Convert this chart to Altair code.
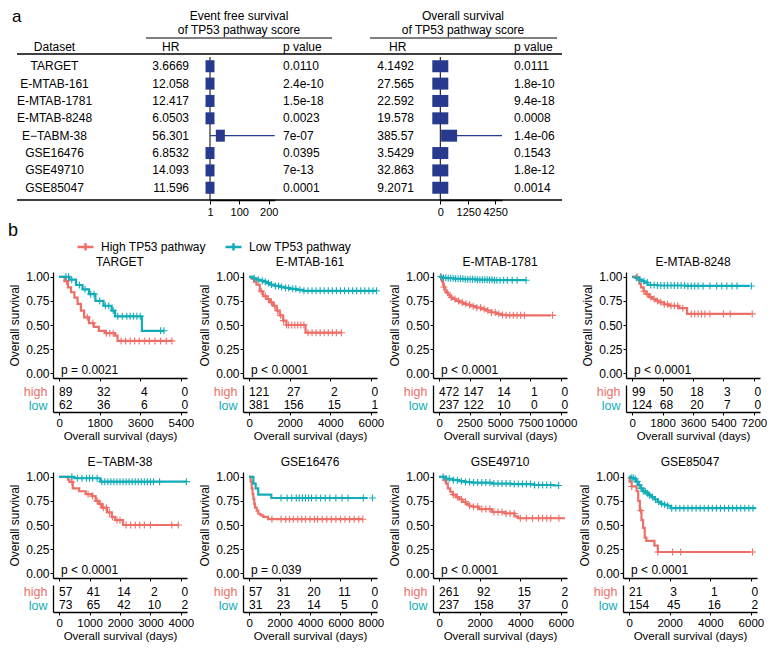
import altair as alt
import pandas as pd

RED = "#EE6F68"
TEAL = "#12ADB8"
NAVY = "#283A8E"
FONT = "Liberation Sans"
GROUPS = ["High TP53 pathway", "Low TP53 pathway"]

# ---------------- part a : forest table ----------------
DATASETS = ["TARGET", "E-MTAB-161", "E-MTAB-1781", "E-MTAB-8248", "E\u2212TABM-38",
            "GSE16476", "GSE49710", "GSE85047"]
HR_EFS = ["3.6669", "12.058", "12.417", "6.0503", "56.301", "6.8532", "14.093", "11.596"]
P_EFS = ["0.0110", "2.4e-10", "1.5e-18", "0.0023", "7e-07", "0.0395", "7e-13", "0.0001"]
HR_OS = ["4.1492", "27.565", "22.592", "19.578", "385.57", "3.5429", "32.863", "9.2071"]
P_OS = ["0.0111", "1.8e-10", "9.4e-18", "0.0008", "1.4e-06", "0.1543", "1.8e-12", "0.0014"]
BOX_EFS = [1, 1, 1, 1, 36, 1, 1, 1]
CI_LO_EFS = [1, 1, 1, 1, 1, 1, 1, 1]
CI_HI_EFS = [1, 1, 1, 1, 220, 1, 1, 1]
BOX_OS = [0, 0, 0, 0, 152, 0, 0, 0]
CI_LO_OS = [0, 0, 0, 0, 152, 0, 0, 0]
CI_HI_OS = [0, 0, 0, 0, 5250, 0, 0, 0]
EFS_REF = 1
OS_REF = 0
EFS_TICKS = [1, 100, 200]
OS_TICKS = [0, 1250, 4250]

# ---------------- part b : Kaplan-Meier panels ----------------
TARGET_HIGH_T = [0, 245, 390, 530, 680, 820, 965, 1110, 1325, 1540, 1760, 2045, 2480, 2590, 5000]
TARGET_HIGH_S = [1.0, 0.955, 0.89, 0.84, 0.785, 0.72, 0.65, 0.58, 0.52, 0.48, 0.44, 0.415, 0.39, 0.335, 0.335]
TARGET_LOW_T = [0, 460, 750, 1040, 1325, 1610, 1970, 2330, 2480, 3670, 4650]
TARGET_LOW_S = [1.0, 0.97, 0.915, 0.87, 0.82, 0.75, 0.70, 0.65, 0.59, 0.44, 0.44]
TARGET_HIGH_C = [330, 1250, 1500, 2100, 2250, 2400, 2750, 2950, 3150, 3350, 3550, 3800, 4000, 4250, 4500, 4750, 5000]
TARGET_LOW_C = [300, 420, 560, 900, 1150, 1400, 1550, 1800, 2050, 2200, 2400, 2600, 2800, 3000, 3150, 3300, 3450, 3600, 4500, 4650]
TARGET_RISK_T = [0, 1800, 3600, 5400]
TARGET_RISK_HIGH = [89, 32, 4, 0]
TARGET_RISK_LOW = [62, 36, 6, 0]

MTAB161_HIGH_T = [0, 115, 240, 360, 525, 690, 855, 1020, 1180, 1350, 1510, 1675, 1840, 2780, 4550]
MTAB161_HIGH_S = [1.0, 0.98, 0.95, 0.92, 0.85, 0.80, 0.77, 0.735, 0.70, 0.65, 0.60, 0.545, 0.50, 0.42, 0.42]
MTAB161_LOW_T = [0, 200, 360, 520, 690, 850, 1020, 1260, 1510, 1750, 2000, 2330, 2660, 6280]
MTAB161_LOW_S = [1.0, 0.985, 0.97, 0.96, 0.95, 0.935, 0.92, 0.905, 0.895, 0.885, 0.875, 0.865, 0.855, 0.855]
MTAB161_HIGH_C = [600, 800, 950, 1100, 1250, 1400, 1550, 1700, 1850, 1950, 2100, 2250, 2400, 2550, 2700,
                  2900, 3100, 3300, 3500, 3700, 3900, 4100, 4300, 4550]
MTAB161_LOW_C = [250, 450, 650, 800, 950, 1100, 1300, 1450, 1600, 1800, 1950, 2150, 2300, 2500, 2700, 2900,
                 3100, 3300, 3500, 3700, 3900, 4100, 4300, 4500, 4700, 4900, 5100, 5300, 5500, 5700, 5900, 6100, 6280]
MTAB161_RISK_T = [0, 2000, 4000, 6000]
MTAB161_RISK_HIGH = [121, 27, 2, 0]
MTAB161_RISK_LOW = [381, 156, 15, 1]

MTAB1781_HIGH_T = [0, 190, 250, 330, 400, 460, 530, 600, 730, 870, 1000, 1140, 1400, 1690, 1950, 2230,
                   2600, 3050, 3450, 3870, 4300, 4690, 5100, 5500, 9180]
MTAB1781_HIGH_S = [1.0, 0.97, 0.95, 0.92, 0.895, 0.87, 0.85, 0.835, 0.815, 0.80, 0.785, 0.77, 0.75, 0.735,
                   0.72, 0.71, 0.695, 0.68, 0.665, 0.65, 0.63, 0.615, 0.605, 0.60, 0.60]
MTAB1781_LOW_T = [0, 300, 600, 1200, 2000, 3000, 4400, 7140]
MTAB1781_LOW_S = [1.0, 0.99, 0.985, 0.98, 0.975, 0.97, 0.965, 0.965]
MTAB1781_HIGH_C = [150, 400, 700, 1000, 1300, 1600, 1900, 2200, 2500, 2800, 3100, 3400, 3700, 4000, 4300,
                   4600, 4900, 5200, 5500, 5800, 6100, 6400, 6700, 7000, 9320]
MTAB1781_LOW_C = [150, 350, 550, 750, 950, 1150, 1350, 1550, 1750, 1950, 2150, 2350, 2550, 2750, 2950, 3150,
                  3350, 3550, 3750, 3950, 4150, 4350, 4550, 4750, 5000, 5300, 5600, 6000, 6400, 7140]
MTAB1781_RISK_T = [0, 2500, 5000, 7500, 10000]
MTAB1781_RISK_HIGH = [472, 147, 14, 1, 0]
MTAB1781_RISK_LOW = [237, 122, 10, 0, 0]

MTAB8248_HIGH_T = [0, 330, 430, 525, 680, 820, 1000, 1210, 1400, 1600, 1900, 2180, 2760, 3250, 7040]
MTAB8248_HIGH_S = [1.0, 0.97, 0.93, 0.89, 0.85, 0.82, 0.79, 0.77, 0.75, 0.735, 0.715, 0.70, 0.675, 0.615, 0.615]
MTAB8248_LOW_T = [0, 200, 430, 580, 720, 915, 1500, 3150, 6950]
MTAB8248_LOW_S = [1.0, 0.99, 0.97, 0.955, 0.94, 0.915, 0.91, 0.905, 0.905]
MTAB8248_HIGH_C = [300, 700, 900, 1100, 1300, 1500, 1700, 1900, 2100, 2300, 2500, 2700, 3000, 3500, 3700,
                   3900, 4100, 4300, 4600, 5400, 5800, 7100]
MTAB8248_LOW_C = [250, 450, 700, 900, 1100, 1300, 1500, 1700, 1900, 2100, 2300, 2500, 2700, 2900, 3100,
                  3300, 3500, 3700, 3900, 4200, 4600, 5000, 5300, 5600, 5900, 6200, 7050]
MTAB8248_RISK_T = [0, 1800, 3600, 5400, 7200]
MTAB8248_RISK_HIGH = [99, 50, 18, 3, 0]
MTAB8248_RISK_LOW = [124, 68, 20, 7, 0]

TABM38_HIGH_T = [0, 290, 340, 450, 660, 875, 1090, 1200, 1300, 1410, 1570, 1730, 1840, 2100, 3915]
TABM38_HIGH_S = [1.0, 0.97, 0.947, 0.88, 0.85, 0.82, 0.80, 0.75, 0.72, 0.68, 0.63, 0.585, 0.55, 0.50, 0.50]
TABM38_LOW_T = [0, 500, 1355, 4180]
TABM38_LOW_S = [1.0, 0.985, 0.95, 0.95]
TABM38_HIGH_C = [420, 950, 1100, 1250, 1350, 1450, 1550, 1650, 1750, 1900, 2000, 2200, 2350, 2500, 2650,
                 2800, 3000, 3700, 3915]
TABM38_LOW_C = [420, 600, 750, 900, 1000, 1100, 1250, 1400, 1500, 1600, 1700, 1800, 1900, 2000, 2100, 2200,
                2300, 2400, 2500, 2600, 2700, 2800, 2900, 3000, 3100, 3300, 4180]
TABM38_RISK_T = [0, 1000, 2000, 3000, 4000]
TABM38_RISK_HIGH = [57, 41, 14, 2, 0]
TABM38_RISK_LOW = [73, 65, 42, 10, 2]

GSE16476_HIGH_T = [0, 100, 170, 230, 280, 340, 390, 500, 600, 760, 920, 1245, 7465]
GSE16476_HIGH_S = [1.0, 0.95, 0.88, 0.82, 0.77, 0.72, 0.68, 0.65, 0.617, 0.60, 0.585, 0.56, 0.56]
GSE16476_LOW_T = [0, 280, 430, 600, 1460, 7790]
GSE16476_LOW_S = [1.0, 0.93, 0.88, 0.815, 0.78, 0.78]
GSE16476_HIGH_C = [1500, 2100, 2400, 2650, 2900, 3200, 3450, 3700, 4000, 4300, 4500, 4800, 5100, 5400,
                   5700, 6000, 6300, 6600, 6900, 7200, 7465]
GSE16476_LOW_C = [2100, 2500, 2800, 3100, 3300, 3500, 3700, 3900, 4100, 4400, 4700, 5000, 5300, 5700,
                  6100, 6500, 7500, 8100]
GSE16476_RISK_T = [0, 2000, 4000, 6000, 8000]
GSE16476_RISK_HIGH = [57, 31, 20, 11, 0]
GSE16476_RISK_LOW = [31, 23, 14, 5, 0]

GSE49710_HIGH_T = [0, 270, 350, 430, 550, 675, 830, 995, 1150, 1315, 1480, 1635, 1955, 2600, 3240, 3720, 3880, 6200]
GSE49710_HIGH_S = [1.0, 0.965, 0.93, 0.88, 0.845, 0.815, 0.79, 0.765, 0.74, 0.72, 0.70, 0.69, 0.665, 0.635,
                   0.62, 0.59, 0.57, 0.57]
GSE49710_LOW_T = [0, 350, 700, 995, 1300, 1635, 2600, 3560, 4680, 5650, 5890]
GSE49710_LOW_S = [1.0, 0.98, 0.965, 0.955, 0.945, 0.94, 0.93, 0.925, 0.915, 0.91, 0.91]
GSE49710_HIGH_C = [300, 700, 900, 1100, 1300, 1500, 1700, 1900, 2100, 2300, 2500, 2700, 2900, 3100, 3300,
                   3500, 3700, 4000, 4300, 4600, 4900, 5100, 5300, 5500, 5900]
GSE49710_LOW_C = [200, 350, 500, 700, 900, 1100, 1300, 1500, 1700, 1900, 2100, 2300, 2500, 2700, 2900, 3100,
                  3300, 3500, 3700, 3900, 4100, 4300, 4500, 4700, 4900, 5100, 5300, 5500, 5890]
GSE49710_RISK_T = [0, 2000, 4000, 6000]
GSE49710_RISK_HIGH = [261, 92, 15, 2]
GSE49710_RISK_LOW = [237, 158, 37, 0]

GSE85047_HIGH_T = [0, 20, 130, 370, 450, 530, 610, 690, 770, 850, 1250, 1415, 6000]
GSE85047_HIGH_S = [1.0, 0.95, 0.90, 0.85, 0.75, 0.65, 0.55, 0.47, 0.37, 0.335, 0.285, 0.22, 0.22]
GSE85047_LOW_T = [0, 100, 210, 330, 450, 570, 690, 810, 935, 1100, 1255, 1420, 1575, 1740, 1900, 2060, 6240]
GSE85047_LOW_S = [1.0, 0.99, 0.98, 0.95, 0.915, 0.88, 0.85, 0.83, 0.81, 0.79, 0.765, 0.74, 0.72, 0.71,
                  0.70, 0.675, 0.675]
GSE85047_HIGH_C = [130, 580, 1415, 2140, 2540, 6080]
GSE85047_LOW_C = [100, 200, 300, 400, 500, 600, 700, 800, 900, 1000, 1150, 1300, 1450, 1600, 1750, 1900,
                  2100, 2300, 2500, 2700, 2900, 3100, 3300, 3500, 3700, 3900, 4100, 4300, 4500, 4700, 4900,
                  5100, 5300, 5500, 5700, 5900, 6100]
GSE85047_RISK_T = [0, 2000, 4000, 6000]
GSE85047_RISK_HIGH = [21, 3, 1, 0]
GSE85047_RISK_LOW = [154, 45, 16, 2]

PANEL_TITLES = ["TARGET", "E-MTAB-161", "E-MTAB-1781", "E-MTAB-8248",
                "E\u2212TABM-38", "GSE16476", "GSE49710", "GSE85047"]
PVALUES = ["p = 0.0021", "p < 0.0001", "p < 0.0001", "p < 0.0001",
           "p < 0.0001", "p = 0.039", "p < 0.0001", "p < 0.0001"]

PANELS = [
    (TARGET_HIGH_T, TARGET_HIGH_S, TARGET_LOW_T, TARGET_LOW_S, TARGET_HIGH_C, TARGET_LOW_C,
     TARGET_RISK_T, TARGET_RISK_HIGH, TARGET_RISK_LOW),
    (MTAB161_HIGH_T, MTAB161_HIGH_S, MTAB161_LOW_T, MTAB161_LOW_S, MTAB161_HIGH_C, MTAB161_LOW_C,
     MTAB161_RISK_T, MTAB161_RISK_HIGH, MTAB161_RISK_LOW),
    (MTAB1781_HIGH_T, MTAB1781_HIGH_S, MTAB1781_LOW_T, MTAB1781_LOW_S, MTAB1781_HIGH_C, MTAB1781_LOW_C,
     MTAB1781_RISK_T, MTAB1781_RISK_HIGH, MTAB1781_RISK_LOW),
    (MTAB8248_HIGH_T, MTAB8248_HIGH_S, MTAB8248_LOW_T, MTAB8248_LOW_S, MTAB8248_HIGH_C, MTAB8248_LOW_C,
     MTAB8248_RISK_T, MTAB8248_RISK_HIGH, MTAB8248_RISK_LOW),
    (TABM38_HIGH_T, TABM38_HIGH_S, TABM38_LOW_T, TABM38_LOW_S, TABM38_HIGH_C, TABM38_LOW_C,
     TABM38_RISK_T, TABM38_RISK_HIGH, TABM38_RISK_LOW),
    (GSE16476_HIGH_T, GSE16476_HIGH_S, GSE16476_LOW_T, GSE16476_LOW_S, GSE16476_HIGH_C, GSE16476_LOW_C,
     GSE16476_RISK_T, GSE16476_RISK_HIGH, GSE16476_RISK_LOW),
    (GSE49710_HIGH_T, GSE49710_HIGH_S, GSE49710_LOW_T, GSE49710_LOW_S, GSE49710_HIGH_C, GSE49710_LOW_C,
     GSE49710_RISK_T, GSE49710_RISK_HIGH, GSE49710_RISK_LOW),
    (GSE85047_HIGH_T, GSE85047_HIGH_S, GSE85047_LOW_T, GSE85047_LOW_S, GSE85047_HIGH_C, GSE85047_LOW_C,
     GSE85047_RISK_T, GSE85047_RISK_HIGH, GSE85047_RISK_LOW),
]

# ---------------- layout constants ----------------
TW, TH = 545, 146          # table body
OFF = -36                  # horizontal shift of the table content (view origin sits under the KM axis area)
KW, KH, RH = 134, 106, 27  # KM panel width / height, risk table height
PLUS = "M-1,0H1M0,-1V1"
BOX_TALL = "M-0.75,-1H0.75V1H-0.75Z"
BOX_WIDE = "M-1,-0.75H1V0.75H-1Z"
LEG_SYM = "M-1,0H1M0,-0.45V0.45"

# ================= part a =================
table_df = pd.DataFrame({
    "Dataset": DATASETS, "HR1": HR_EFS, "P1": P_EFS, "HR2": HR_OS, "P2": P_OS,
    "box1": BOX_EFS, "lo1": CI_LO_EFS, "hi1": CI_HI_EFS,
    "box2": BOX_OS, "lo2": CI_LO_OS, "hi2": CI_HI_OS,
})
ROW_Y = alt.Y("Dataset:N", scale=alt.Scale(type="point", domain=DATASETS, padding=0.705), axis=None)


def col_text(field, x, align):
    return alt.Chart(table_df).mark_text(align=align, baseline="middle", fontSize=12, color="black").encode(
        x=alt.value(x + OFF), y=ROW_Y, text=f"{field}:N")


def label(txt, x, y, align="center", size=12, baseline="middle", shift=True):
    return alt.Chart(pd.DataFrame({"t": [txt]})).mark_text(
        align=align, baseline=baseline, fontSize=size, color="black").encode(
        x=alt.value(x + (OFF if shift else 0)), y=alt.value(y), text="t:N")


def hrule(x1, x2, y, w):
    return alt.Chart(pd.DataFrame({"k": [0]})).mark_rule(color="black", strokeWidth=w).encode(
        x=alt.value(x1 + OFF), x2=alt.value(x2 + OFF), y=alt.value(y))


def forest_axis(vals):
    return alt.Axis(values=vals, orient="bottom", title=None, grid=False, labelFlush=False,
                    labelOverlap=False, format="d",
                    domainColor="black", domainWidth=1.6, tickColor="black", tickSize=4,
                    labelFontSize=11, labelPadding=2, labelColor="black")


f1_scale = alt.Scale(domain=[1, 220], range=[193 + OFF, 257.7 + OFF], nice=False, zero=False)
f1_axis = forest_axis(EFS_TICKS)
forest1 = alt.layer(
    alt.Chart(pd.DataFrame({"v": [EFS_REF]})).mark_rule(color="black", strokeWidth=1).encode(
        x=alt.X("v:Q", scale=f1_scale, axis=f1_axis), y=alt.value(3), y2=alt.value(TH)),
    alt.Chart(table_df).mark_rule(color=NAVY, strokeWidth=1.2).encode(
        x=alt.X("lo1:Q", scale=f1_scale, axis=f1_axis), x2="hi1:Q", y=ROW_Y),
    alt.Chart(table_df).mark_point(shape=BOX_TALL, size=144, filled=True, color=NAVY, opacity=1).encode(
        x=alt.X("box1:Q", scale=f1_scale, axis=f1_axis), y=ROW_Y),
)

f2_scale = alt.Scale(type="pow", exponent=0.55, domain=[0, 5250], range=[423.3 + OFF, 485 + OFF],
                     nice=False, zero=False)
f2_axis = forest_axis(OS_TICKS)
forest2 = alt.layer(
    alt.Chart(pd.DataFrame({"v": [OS_REF]})).mark_rule(color="black", strokeWidth=1).encode(
        x=alt.X("v:Q", scale=f2_scale, axis=f2_axis), y=alt.value(3), y2=alt.value(TH)),
    alt.Chart(table_df).mark_rule(color=NAVY, strokeWidth=1.2).encode(
        x=alt.X("lo2:Q", scale=f2_scale, axis=f2_axis), x2="hi2:Q", y=ROW_Y),
    alt.Chart(table_df).mark_point(shape=BOX_WIDE, size=256, filled=True, color=NAVY, opacity=1).encode(
        x=alt.X("box2:Q", scale=f2_scale, axis=f2_axis), y=ROW_Y),
)

table = alt.layer(
    label("a", -41, -45, align="left", size=17, baseline="top", shift=False),
    label("Event free survival", 222, -38),
    label("of TP53 pathway score", 222, -24),
    label("Overall survival", 446, -38),
    label("of TP53 pathway score", 446, -24),
    hrule(129, 315, -16, 1),
    hrule(353, 540, -16, 1),
    label("Dataset", 37.5, -7.5),
    label("HR", 145, -7.5, align="left"),
    label("p value", 266, -7.5, align="left"),
    label("HR", 372, -7.5, align="left"),
    label("p value", 497, -7.5, align="left"),
    hrule(0, TW, 0, 1.5),
    hrule(0, TW, TH, 1.5),
    col_text("Dataset", 37.5, "center"),
    col_text("HR1", 172, "right"),
    col_text("P1", 266, "left"),
    col_text("HR2", 397, "right"),
    col_text("P2", 497, "left"),
    forest1,
    forest2,
).resolve_scale(x="independent").properties(width=TW, height=TH)

# ================= part b =================
LEGEND = alt.Legend(orient="none", legendX=23, legendY=183, direction="horizontal", title=None,
                    symbolType=LEG_SYM, symbolSize=256, symbolStrokeWidth=2.5, labelFontSize=12,
                    labelColor="black", columnPadding=14, labelOffset=6)
COLOR = alt.Color("group:N", scale=alt.Scale(domain=GROUPS, range=[RED, TEAL]), legend=LEGEND)


def surv_at(ts, ss, t):
    s = ss[0]
    for ti, si in zip(ts, ss):
        if ti <= t:
            s = si
    return s


def panel(title, pval, data):
    ht, hs, lt, ls, hc, lc, rt, rh, rl = data
    M = rt[-1]
    xs = alt.Scale(domain=[-0.05 * M, 1.05 * M], nice=False, zero=False)
    ys = alt.Scale(domain=[-0.05, 1.05], nice=False, zero=False)
    line_df = pd.DataFrame({
        "time": ht + lt, "surv": hs + ls,
        "group": [GROUPS[0]] * len(ht) + [GROUPS[1]] * len(lt)})
    cens_df = pd.DataFrame({
        "time": hc + lc,
        "surv": [surv_at(ht, hs, t) for t in hc] + [surv_at(lt, ls, t) for t in lc],
        "group": [GROUPS[0]] * len(hc) + [GROUPS[1]] * len(lc)})
    xax = alt.Axis(values=rt, labels=False, title=None, grid=False, tickSize=3, tickColor="black",
                   domainColor="black", domainWidth=1.3)
    yax = alt.Axis(values=[0, 0.25, 0.5, 0.75, 1], format=".2f", title="Overall survival", grid=False,
                   titleFontSize=12, titleFontWeight="normal", titlePadding=4, labelFontSize=12,
                   labelPadding=1, tickSize=3, tickColor="black", domainColor="black", domainWidth=1.3,
                   minExtent=28, maxExtent=28, labelColor="black", titleColor="black")
    lines = alt.Chart(line_df).mark_line(interpolate="step-after", strokeWidth=2.2).encode(
        x=alt.X("time:Q", scale=xs, axis=xax), y=alt.Y("surv:Q", scale=ys, axis=yax), color=COLOR,
        detail="group:N")
    cens = alt.Chart(cens_df).mark_point(shape=PLUS, size=49, filled=False, strokeWidth=1.1, opacity=1).encode(
        x=alt.X("time:Q", scale=xs, axis=xax), y=alt.Y("surv:Q", scale=ys, axis=yax), color=COLOR)
    ptxt = alt.Chart(pd.DataFrame({"t": [0], "s": [0.03], "lab": [pval]})).mark_text(
        align="left", baseline="middle", fontSize=12, dx=2, color="black").encode(
        x=alt.X("t:Q", scale=xs, axis=xax), y=alt.Y("s:Q", scale=ys, axis=yax), text="lab:N")
    km = alt.layer(lines, cens, ptxt).properties(
        width=KW, height=KH,
        title=alt.Title(title, fontSize=12, fontWeight="normal", anchor="middle", offset=2, color="black"))

    n = len(rt)
    risk_df = pd.DataFrame({"time": rt + rt, "grp": ["high"] * n + ["low"] * n, "n": rh + rl,
                            "first": [i == 0 for i in range(n)] * 2})
    rx = alt.Axis(values=rt, title="Overall survival (days)", grid=False, labelFlush=False, format="d",
                  labelOverlap=False,
                  titleFontSize=11.5, titleFontWeight="normal", titlePadding=2, labelFontSize=11.5,
                  labelPadding=2, tickSize=3, tickColor="black", domainColor="black", domainWidth=1.3,
                  labelColor="black", titleColor="black")
    ry = alt.Axis(title=" ", ticks=False, grid=False, labelFontSize=12.5, labelPadding=6,
                  titleFontSize=12, titlePadding=4, minExtent=28, maxExtent=28,
                  domainColor="black", domainWidth=1.3,
                  labelColor={"condition": {"test": "datum.value == 'high'", "value": RED}, "value": TEAL})
    ryscale = alt.Scale(domain=["high", "low"])
    base = alt.Chart(risk_df)
    risk_first = base.transform_filter("datum.first").mark_text(
        fontSize=12, color="black", align="left", dx=0).encode(
        x=alt.X("time:Q", scale=xs, axis=rx), y=alt.Y("grp:N", scale=ryscale, axis=ry),
        text=alt.Text("n:Q", format="d"))
    risk_rest = base.transform_filter("!datum.first").mark_text(
        fontSize=12, color="black", align="center", dx=4).encode(
        x=alt.X("time:Q", scale=xs, axis=rx), y=alt.Y("grp:N", scale=ryscale, axis=ry),
        text=alt.Text("n:Q", format="d"))
    risk = alt.layer(risk_first, risk_rest).properties(width=KW, height=RH)
    return alt.vconcat(km, risk, spacing=3)


panels = [panel(PANEL_TITLES[i], PVALUES[i], PANELS[i]) for i in range(8)]
row1 = alt.hconcat(*panels[:4], spacing=4)
row2 = alt.hconcat(*panels[4:], spacing=4)
grid = alt.vconcat(row1, row2, spacing=13,
                   title=alt.Title("b", anchor="start", fontSize=18, fontWeight="normal", offset=16,
                                   color="black"))

chart = alt.vconcat(table, grid, spacing=4).properties(padding=0).configure(
    font=FONT).configure_view(stroke=None).configure_axis(labelFont=FONT, titleFont=FONT)

chart.save("out.html", embed_options={"renderer": "svg", "actions": False})
